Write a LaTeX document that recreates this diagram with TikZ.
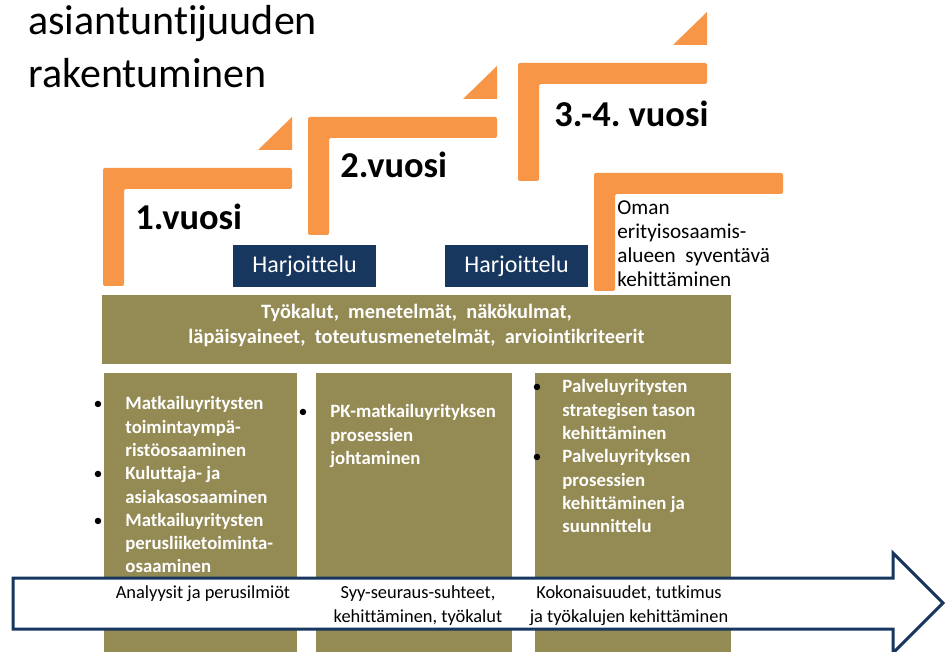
\documentclass[tikz,border=0pt]{standalone}
\usepackage{fontspec}
\setmainfont{Carlito}[Ligatures=NoCommon]
\frenchspacing
\definecolor{oranssi}{HTML}{F79646}
\definecolor{tummansininen}{HTML}{17375E}
\definecolor{oliivi}{HTML}{948A54}
\begin{document}
\begin{tikzpicture}[x=0.5pt,y=-0.5pt,line join=round,
	harj/.style={fill=tummansininen,text=white,minimum width=71.5pt,minimum height=21pt,inner sep=0pt,font=\fontsize{12}{14}\selectfont},
	vuosi/.style={anchor=base west,inner sep=0pt,font=\bfseries\fontsize{18.2}{22}\selectfont},
	palsta/.style={text=white,align=left,anchor=base west,inner sep=0pt,font=\bfseries\fontsize{9.4}{11.65}\selectfont},
	piste/.style={anchor=base,inner sep=0pt,font=\fontsize{9}{10}\selectfont},
	nuoliteksti/.style={align=center,anchor=base,inner sep=0pt,font=\fontsize{9.2}{12}\selectfont}]
	\useasboundingbox (0,0) rectangle (949,652);
	% otsikko (monirivisen solmun base = viimeisen rivin perusviiva)
	\node[anchor=base west,inner sep=0pt,align=left,font=\fontsize{21}{26.5}\selectfont] (otsikko) at (28,88) {asiantuntijuuden\\rakentuminen};
	% portaat: kulma x/y, kolmio vai ei
	\foreach \x/\y/\k in {103/168/1,308/117/1,518/63/1,594/173/0}
	{\fill[oranssi,rounded corners=1pt] (\x,\y+118)--(\x,\y)--(\x+189,\y)--(\x+189,\y+21)--(\x+21,\y+21)--(\x+21,\y+118)--cycle;
	 \ifnum\k=1 \fill[oranssi] (\x+155,\y-18)--(\x+189,\y-51)--(\x+189,\y-18)--cycle;\fi}
	\node[vuosi] (v1) at (135,230) {1.vuosi};
	\node[vuosi] (v2) at (340,178) {2.vuosi};
	\node[vuosi] (v34) at (554,127) {3.-4. vuosi};
	\node[harj] (harj1) at (304.5,266) {Harjoittelu};
	\node[harj] (harj2) at (516.5,266) {Harjoittelu};
	\node[anchor=base west,inner sep=0pt,align=left,font=\fontsize{10.6}{12}\selectfont] (oman) at (617,287) {Oman\\erityisosaamis-\\alueen\ \ syventävä\\kehittäminen};
	% oliivinväriset laatikot
	\fill[oliivi] (102,295) rectangle (731,364);
	\node[text=white,align=center,anchor=base,inner sep=0pt,font=\bfseries\fontsize{10.2}{13}\selectfont] (tyokalut) at (416.5,344)
		{Työkalut,\ \ menetelmät,\ \ näkökulmat,\\läpäisyaineet,\ \ toteutusmenetelmät,\ \ arviointikriteerit};
	\foreach \a/\b in {104/297,316/512,535/731}
	{\fill[oliivi] (\a,373) rectangle (\b,652);}
	\node[palsta] (p1) at (125,573) {Matkailuyritysten\\toimintaympä-\\ristöosaaminen\\Kuluttaja- ja\\asiakasosaaminen\\Matkailuyritysten\\perusliiketoiminta-\\osaaminen};
	\node[palsta] (p2) at (330,464.6) {PK-matkailuyrityksen\\prosessien\\johtaminen};
	\node[palsta] (p3) at (562,532.8) {Palveluyritysten\\strategisen tason\\kehittäminen\\Palveluyrityksen\\prosessien\\kehittäminen ja\\suunnittelu};
	\foreach \x/\y in {98/410,98/480,98/527,303/418,537/393,537/463}
	{\node[piste] at (\x,\y) {•};}
	% nuoli
	\draw[tummansininen,fill=white,line width=1.5pt,line join=miter] (13,578)--(893,578)--(893,553)--(943,603)--(893,653)--(893,629)--(13,629)--cycle;
	\node[nuoliteksti] (n1) at (203,598) {Analyysit ja perusilmiöt};
	\node[nuoliteksti] (n2) at (418,622) {Syy-seuraus-suhteet,\\kehittäminen, työkalut};
	\node[nuoliteksti] (n3) at (629,622) {Kokonaisuudet, tutkimus\\ja työkalujen kehittäminen};
\end{tikzpicture}
\end{document}
